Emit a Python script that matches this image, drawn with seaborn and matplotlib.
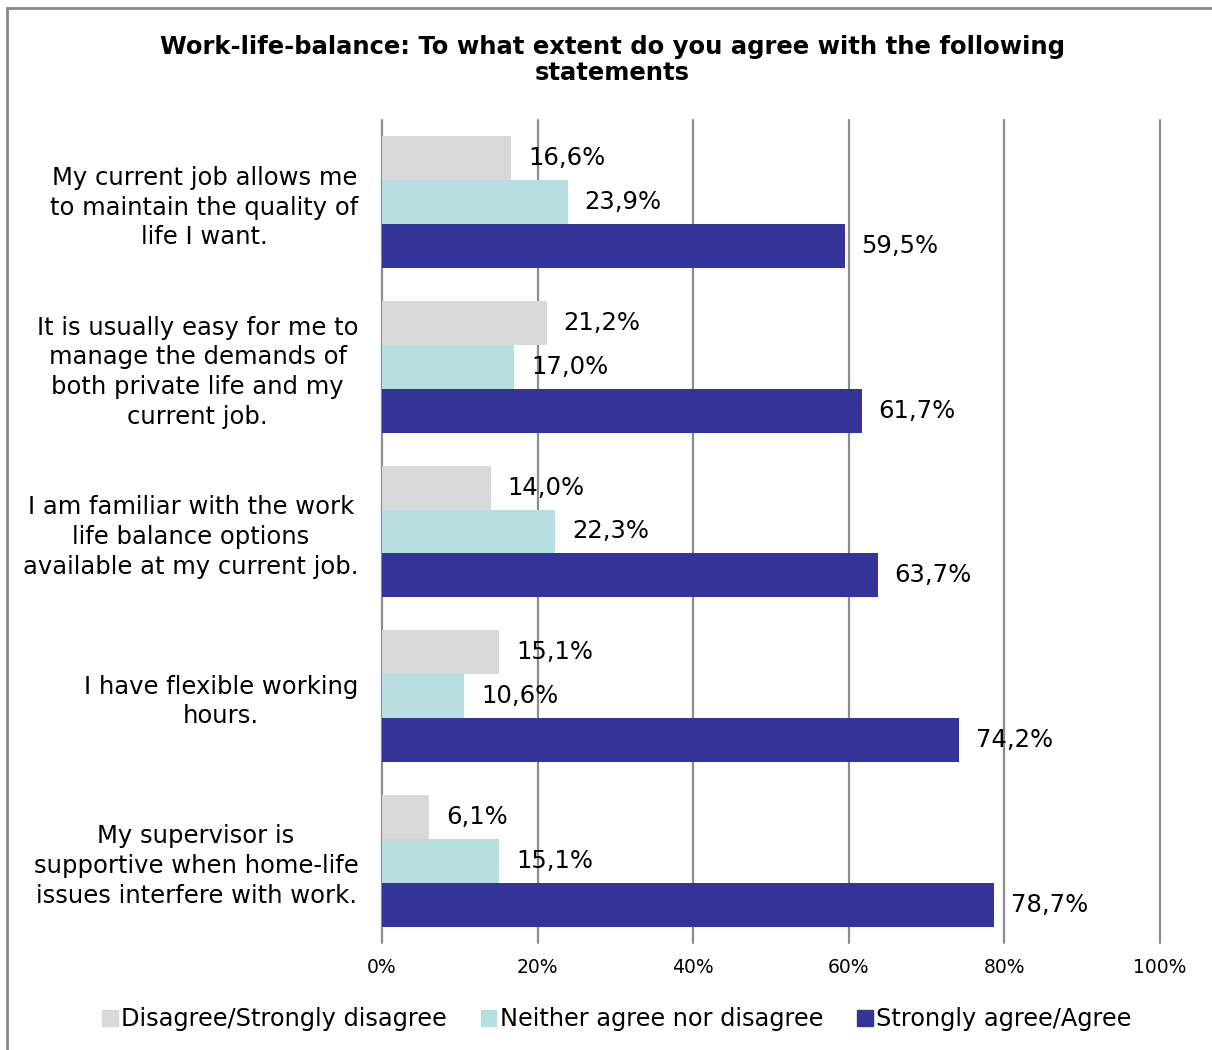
import matplotlib
matplotlib.use("Agg")
import matplotlib.pyplot as plt
import seaborn as sns
import pandas as pd
from matplotlib.patches import Rectangle

# Survey statements (line breaks as shown on the axis)
statements = [
    "My current job allows me\nto maintain the quality of\nlife I want.",
    "It is usually easy for me to\nmanage the demands of\nboth private life and my\ncurrent job.",
    "I am familiar with the work\nlife balance options\navailable at my current job.",
    "I have flexible working\nhours.",
    "My supervisor is\nsupportive when home-life\nissues interfere with work.",
]
responses = [
    "Disagree/Strongly disagree",
    "Neither agree nor disagree",
    "Strongly agree/Agree",
]
disagree = [16.6, 21.2, 14.0, 15.1, 6.1]
neutral = [23.9, 17.0, 22.3, 10.6, 15.1]
agree = [59.5, 61.7, 63.7, 74.2, 78.7]
colors = ["#D9D9D9", "#B7DFE2", "#343399"]
x_ticks = [0, 20, 40, 60, 80, 100]

rows = []
for resp, vals in zip(responses, [disagree, neutral, agree]):
    for st, v in zip(statements, vals):
        rows.append({"statement": st, "response": resp, "value": v})
df = pd.DataFrame(rows)

sns.set_theme(style="white")
plt.rcParams["font.family"] = ["DejaVu Sans"]
plt.rcParams["text.color"] = "black"
plt.rcParams["xtick.color"] = "black"
plt.rcParams["ytick.color"] = "black"

fig = plt.figure(figsize=(12.12, 10.5), dpi=100)
ax = fig.add_axes([382 / 1212, 1 - 943 / 1050, (1160 - 382) / 1212, (943 - 120) / 1050])

sns.barplot(
    data=df, y="statement", x="value", hue="response", orient="h",
    order=statements, hue_order=responses, palette=colors,
    saturation=1, width=0.8, edgecolor="none", linewidth=0, ax=ax,
)

for cont in ax.containers:
    labels = [f"{b.get_width():.1f}".replace(".", ",") + "%" for b in cont]
    ax.bar_label(cont, labels=labels, padding=12, fontsize=17.5, color="black")

ax.set_xlim(0, 100)
ax.set_ylim(4.5, -0.5)
ax.set_xticks(x_ticks)
ax.set_xticklabels([f"{t}%" for t in x_ticks], fontsize=13.5)
ax.tick_params(axis="x", length=0, pad=11)
ax.tick_params(axis="y", length=0, pad=17, labelsize=17.5)
for lab in ax.get_yticklabels():
    lab.set_multialignment("center")
    lab.set_linespacing(1.3)
ax.set_xlabel("")
ax.set_ylabel("")
for s in ax.spines.values():
    s.set_visible(False)
ax.xaxis.grid(True, color="#8C8C8C", linewidth=1.6)
ax.set_axisbelow(True)
for gl in ax.get_xgridlines():
    gl.set_clip_on(False)

ax.legend_.remove()
handles = [Rectangle((0, 0), 1, 1, color=c) for c in colors]
fig.legend(
    handles, responses, loc="center", bbox_to_anchor=(0.509, 1 - 1019 / 1050),
    ncol=3, frameon=False, fontsize=17.3, handlelength=0.65, handleheight=0.65,
    handletextpad=0.15, columnspacing=1.4,
)

fig.text(
    0.505, 1 - 60 / 1050,
    "Work-life-balance: To what extent do you agree with the following\nstatements",
    ha="center", va="center", fontsize=17.5, fontweight="bold",
    linespacing=1.1,
)

# Chart-area frame (open on the right and bottom edges)
fig.add_artist(plt.Line2D([7 / 1212, 7 / 1212], [0, 1 - 8 / 1050],
                          transform=fig.transFigure, color="#888888", lw=2))
fig.add_artist(plt.Line2D([7 / 1212, 1], [1 - 8 / 1050, 1 - 8 / 1050],
                          transform=fig.transFigure, color="#888888", lw=2))

fig.savefig("out.png", dpi=100, facecolor="white")
